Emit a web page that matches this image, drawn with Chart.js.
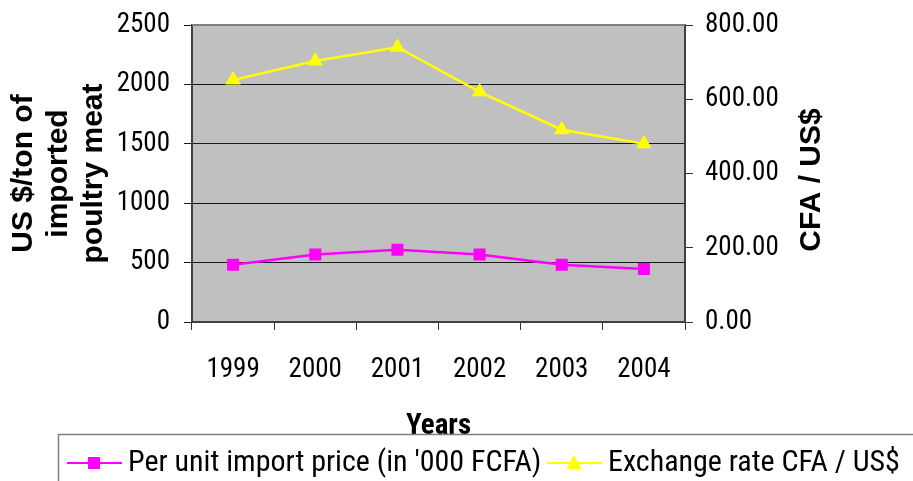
<!DOCTYPE html>
<html>
<head>
<meta charset="utf-8">
<script src="https://cdn.jsdelivr.net/npm/chart.js@4"></script>
<style>
  body { margin: 0; background: #fff; }
  #wrap { width: 913px; height: 481px; }
</style>
</head>
<body>
<div id="wrap"><canvas id="chart" width="913" height="481"></canvas></div>
<script>
const years = ['1999', '2000', '2001', '2002', '2003', '2004'];
const importPrice = [482, 568, 608, 568, 482, 446];
const exchangeRate = [652, 703, 740, 620, 518, 480];

const narrow = "'Roboto Condensed', 'Liberation Sans', sans-serif";
const wide = "'Liberation Sans', Arial, sans-serif";

// grey plot background + top border, like the old spreadsheet chart
const plotBackground = {
  id: 'plotBackground',
  beforeDraw(chart) {
    const { ctx, chartArea: a } = chart;
    ctx.save();
    ctx.fillStyle = '#c0c0c0';
    ctx.fillRect(a.left, a.top, a.right - a.left, a.bottom - a.top);
    ctx.restore();
  },
  afterDraw(chart) {
    const { ctx, chartArea: a } = chart;
    ctx.save();
    ctx.strokeStyle = '#808080';
    ctx.lineWidth = 2;
    ctx.beginPath();
    ctx.moveTo(a.left, a.top);
    ctx.lineTo(a.right, a.top);
    ctx.stroke();
    ctx.restore();
  }
};

// right axis title reads bottom to top in the original
const rightTitle = {
  id: 'rightTitle',
  afterDraw(chart) {
    const { ctx } = chart;
    ctx.save();
    ctx.translate(812, 180);
    ctx.rotate(-Math.PI / 2);
    ctx.font = 'bold 30px ' + wide;
    ctx.fillStyle = '#000';
    ctx.textAlign = 'center';
    ctx.textBaseline = 'middle';
    ctx.fillText('CFA / US$', 0, 0);
    ctx.restore();
  }
};

function drawMarker(ctx, style, x, y, color) {
  ctx.fillStyle = color;
  ctx.beginPath();
  if (style === 'rect') {
    ctx.rect(x - 6, y - 6, 12, 12);
  } else {
    ctx.moveTo(x, y - 8);
    ctx.lineTo(x + 7.5, y + 6);
    ctx.lineTo(x - 7.5, y + 6);
    ctx.closePath();
  }
  ctx.fill();
}

const boxedLegend = {
  id: 'boxedLegend',
  afterDraw(chart) {
    const { ctx } = chart;
    const items = [
      { x: 67, text: 'Per unit import price (in \'000 FCFA)' },
      { x: 547, text: 'Exchange rate CFA / US$' }
    ];
    ctx.save();
    ctx.strokeStyle = '#808080';
    ctx.lineWidth = 1.5;
    ctx.strokeRect(58.5, 434.5, 870, 60);
    ctx.font = '30px ' + narrow;
    ctx.textBaseline = 'alphabetic';
    chart.data.datasets.forEach((ds, i) => {
      const it = items[i];
      const y = 463;
      ctx.strokeStyle = ds.borderColor;
      ctx.lineWidth = 2;
      ctx.beginPath();
      ctx.moveTo(it.x, y);
      ctx.lineTo(it.x + 55, y);
      ctx.stroke();
      drawMarker(ctx, ds.pointStyle, it.x + 27, y, ds.borderColor);
      ctx.fillStyle = '#000';
      ctx.fillText(it.text, it.x + 61, 471);
    });
    ctx.restore();
  }
};

// fixed axis sizes so the plot area lands where the original has it
function fixWidth(w) {
  return scale => {
    scale.width = w;
    scale.paddingTop = 0;
    scale.paddingBottom = 0;
  };
}

new Chart(document.getElementById('chart'), {
  type: 'line',
  data: {
    labels: years,
    datasets: [
      {
        label: 'Per unit import price (in \'000 FCFA)',
        data: importPrice,
        yAxisID: 'y',
        borderColor: '#ff00ff',
        backgroundColor: '#ff00ff',
        borderWidth: 2.5,
        pointStyle: 'rect',
        pointRadius: 8.5,
        pointBorderWidth: 0,
        tension: 0
      },
      {
        label: 'Exchange rate CFA / US$',
        data: exchangeRate,
        yAxisID: 'y1',
        borderColor: '#ffff00',
        backgroundColor: '#ffff00',
        borderWidth: 2.5,
        pointStyle: 'triangle',
        pointRadius: 9,
        pointBorderWidth: 0,
        tension: 0
      }
    ]
  },
  options: {
    responsive: false,
    animation: false,
    layout: { padding: { top: 25, left: 0, right: 0, bottom: 0 } },
    plugins: {
      legend: { display: false },
      tooltip: { enabled: false }
    },
    scales: {
      x: {
        offset: true,
        grid: { display: true, drawOnChartArea: false, tickLength: 8, color: '#333', offset: true },
        border: { color: '#404040', width: 2 },
        ticks: { color: '#000', font: { family: narrow, size: 27 }, padding: 24, maxRotation: 0 },
        title: {
          display: true,
          text: 'Years',
          color: '#000',
          font: { family: narrow, size: 29, weight: 'bold' },
          padding: { top: 0, bottom: 37 }
        },
        afterFit(scale) { scale.height = 159; }
      },
      y: {
        position: 'left',
        min: 0,
        max: 2500,
        ticks: {
          stepSize: 500,
          color: '#000',
          font: { family: narrow, size: 27 },
          padding: 14,
          callback: v => String(v)
        },
        grid: { color: '#1a1a1a', tickLength: 8 },
        border: { color: '#404040', width: 2 },
        title: {
          display: true,
          text: ['US $/ton of', 'imported', 'poultry meat'],
          color: '#000',
          font: { family: wide, size: 30, weight: 'bold', lineHeight: 1.17 },
          padding: { top: 6, bottom: 0 }
        },
        afterFit: fixWidth(192)
      },
      y1: {
        position: 'right',
        min: 0,
        max: 800,
        ticks: {
          stepSize: 200,
          color: '#000',
          font: { family: narrow, size: 27 },
          padding: 12,
          callback: v => Number(v).toFixed(2)
        },
        grid: { drawOnChartArea: false, color: '#333', tickLength: 8 },
        border: { color: '#404040', width: 2 },
        afterFit: fixWidth(228)
      }
    }
  },
  plugins: [plotBackground, rightTitle, boxedLegend]
});
</script>
</body>
</html>
